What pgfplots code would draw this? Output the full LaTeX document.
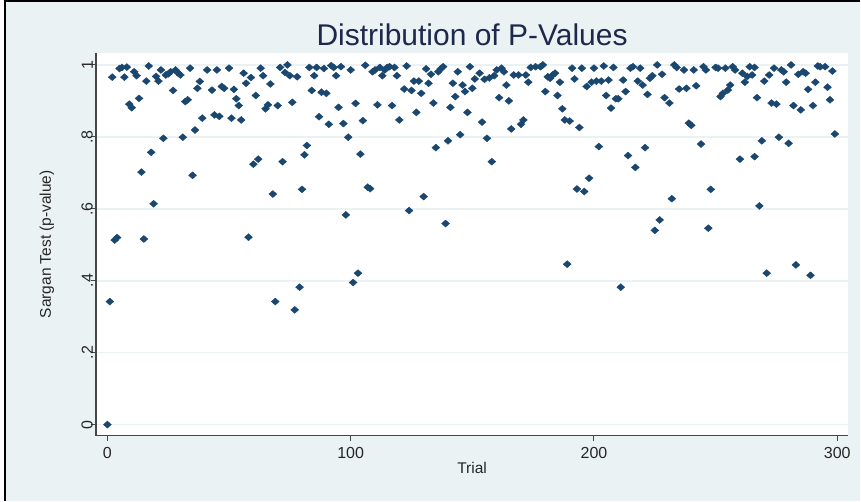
\documentclass[border=0pt]{standalone}
\usepackage{fontspec}
\setmainfont{Liberation Sans}
\usepackage{pgfplots}
\pgfplotsset{compat=1.18}
\usepackage{pgfplotstable}
\definecolor{bgc}{RGB}{234,242,243}
\definecolor{gridc}{RGB}{234,242,243}
\definecolor{mk}{RGB}{26,71,111}
\definecolor{ttl}{RGB}{30,40,75}
\definecolor{axc}{RGB}{70,70,70}
\pgfplotstableread{
x y
0 0.000
1 0.342
2 0.966
3 0.513
4 0.520
5 0.990
6 0.993
7 0.966
8 0.994
9 0.891
10 0.881
11 0.981
12 0.970
13 0.907
14 0.702
15 0.516
16 0.955
17 0.997
18 0.757
19 0.614
20 0.968
21 0.955
22 0.986
23 0.796
24 0.972
25 0.975
26 0.981
27 0.929
28 0.986
29 0.978
30 0.972
31 0.799
32 0.898
33 0.903
34 0.991
35 0.693
36 0.819
37 0.935
38 0.954
39 0.852
41 0.986
43 0.930
44 0.861
45 0.986
46 0.857
47 0.940
48 0.935
50 0.991
51 0.852
52 0.932
53 0.906
54 0.887
55 0.847
56 0.977
57 0.949
58 0.521
59 0.965
60 0.724
61 0.915
62 0.738
63 0.991
64 0.970
65 0.878
66 0.889
67 0.947
68 0.641
69 0.342
70 0.887
71 0.993
72 0.731
73 0.979
74 1.000
75 0.970
76 0.896
77 0.319
78 0.967
79 0.382
80 0.654
81 0.750
82 0.776
83 0.993
84 0.929
85 0.970
86 0.993
87 0.856
88 0.924
89 0.990
90 0.921
91 0.835
92 0.998
93 0.993
94 0.970
95 0.882
96 0.995
97 0.837
98 0.583
99 0.799
100 0.986
101 0.395
102 0.893
103 0.421
104 0.752
105 0.845
106 0.999
107 0.660
108 0.656
109 0.981
110 0.986
111 0.889
112 0.993
113 0.970
114 0.986
115 0.993
116 0.995
117 0.887
118 0.993
119 0.970
120 0.847
122 0.933
123 0.997
124 0.595
125 0.929
126 0.955
127 0.868
128 0.955
129 0.921
130 0.634
131 0.989
132 0.949
133 0.974
134 0.894
135 0.770
136 0.981
137 0.989
138 0.995
139 0.559
140 0.789
141 0.882
142 0.949
143 0.912
144 0.981
145 0.806
146 0.944
147 0.926
148 0.868
149 0.995
150 0.935
151 0.961
153 0.977
154 0.841
155 0.960
156 0.796
157 0.964
158 0.731
159 0.970
160 0.986
161 0.909
162 0.991
163 0.981
164 0.944
165 0.900
166 0.822
167 0.972
169 0.972
170 0.835
171 0.847
172 0.972
173 0.952
174 0.993
176 0.995
178 0.995
179 1.000
180 0.926
181 0.967
182 0.963
183 0.972
184 0.977
185 0.915
186 0.952
187 0.878
188 0.847
189 0.446
190 0.844
191 0.991
192 0.961
193 0.655
194 0.826
195 0.991
196 0.648
197 0.940
198 0.685
199 0.952
200 0.991
201 0.955
202 0.773
203 0.955
204 0.997
205 0.915
206 0.958
207 0.880
208 0.993
209 0.906
210 0.906
211 0.382
212 0.958
213 0.926
214 0.748
215 0.991
216 0.995
217 0.715
218 0.955
219 0.991
220 0.944
221 0.770
222 0.918
223 0.963
224 0.970
225 0.540
226 1.000
227 0.569
228 0.974
229 0.909
231 0.894
232 0.628
233 1.000
234 0.993
235 0.933
237 0.986
238 0.935
239 0.838
240 0.832
241 0.986
242 0.942
244 0.780
245 0.995
246 0.986
247 0.546
248 0.654
250 0.993
251 0.991
252 0.912
253 0.921
254 0.991
255 0.930
256 0.944
257 0.995
258 0.986
260 0.738
261 0.977
262 0.952
263 0.968
264 0.995
265 0.972
266 0.993
266 0.745
267 0.909
268 0.608
269 0.789
270 0.955
271 0.421
272 0.972
273 0.894
274 0.991
275 0.891
276 0.799
277 0.986
278 0.981
279 0.952
280 0.782
281 1.000
282 0.887
283 0.444
284 0.974
285 0.875
286 0.981
287 0.977
288 0.932
289 0.415
290 0.887
291 0.952
292 0.997
293 0.995
295 0.995
296 0.938
297 0.903
298 0.983
299 0.808
}\pvals
\begin{document}
\begin{tikzpicture}[x=1pt,y=1pt]
\path (-48,-32.5) rectangle (382.5,218);
\fill[bgc] (-45,-32.5) rectangle (382.5,217.25);
\draw[black, line width=0.8pt] (-45.5,-32.5) -- (-45.5,217.5) -- (382.5,217.5);
\node[anchor=base, font=\fontsize{15}{17}\selectfont, text=ttl, inner sep=0pt] at (188.25,195) {Distribution of P-Values};
\begin{axis}[
  at={(0,0)}, anchor=south west, scale only axis,
  width=376.5pt, height=191.5pt,
  xmin=-4.72, xmax=304.5, ymin=-0.0306, ymax=1.0333,
  axis x line*=bottom, axis y line*=left,
  axis line style={axc, line width=0.6pt, -},
  axis background/.style={fill=white},
  xtick={0,100,200,300}, xticklabels={0,100,200,300},
  ytick={0,0.2,0.4,0.6,0.8,1}, yticklabels={0,.2,.4,.6,.8,1},
  tick align=outside, major tick length=2.5pt,
  tick style={axc, line width=0.5pt},
  ymajorgrids, major grid style={gridc, line width=0.8pt},
  ticklabel style={font=\fontsize{8}{9}\selectfont, text=black!85},
  yticklabel style={rotate=90, anchor=south, yshift=-4.5pt},
  xlabel={Trial}, ylabel={Sargan Test (p-value)},
  label style={font=\fontsize{7.75}{9}\selectfont, text=black!85},
  xlabel style={at={(axis description cs:0.5,-0.0836)}, anchor=center},
  ylabel style={at={(axis description cs:-0.0651,0.5)}, anchor=center},
  clip=false,
]
\addplot[only marks, mark=diamond*, mark size=1.75pt,
  mark options={xscale=1.5, fill=mk, draw=mk, line width=0.2pt}] table[x=x,y=y] {\pvals};
\end{axis}
\end{tikzpicture}
\end{document}
